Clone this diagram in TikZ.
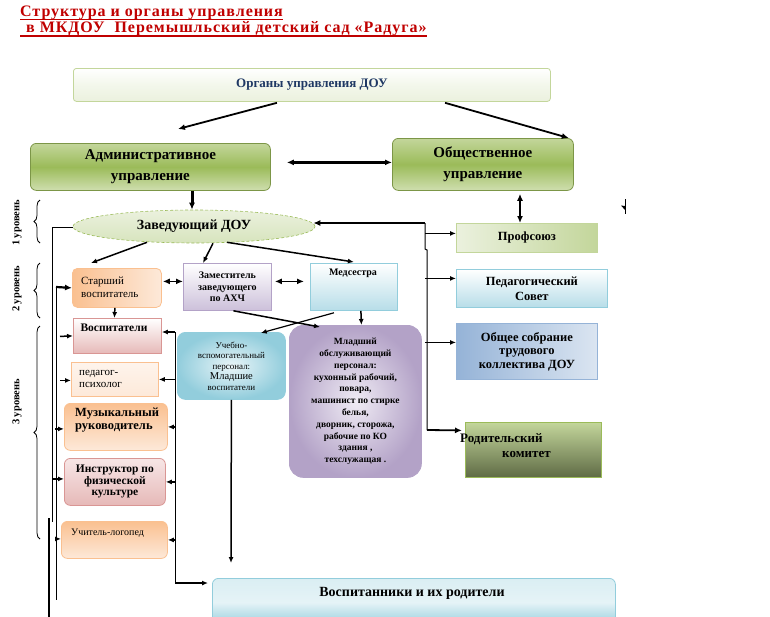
\documentclass[tikz,border=0pt]{standalone}
\usepackage{fontspec}
\setmainfont{Liberation Serif}
\usetikzlibrary{arrows.meta,shapes.geometric,calc,decorations.pathreplacing}
\definecolor{titlered}{HTML}{C00000}
\definecolor{navy}{HTML}{1F3864}
\definecolor{gA}{HTML}{9BBB59}
\definecolor{gB}{HTML}{C3D69B}
\definecolor{gC}{HTML}{EBF1DE}
\definecolor{gD}{HTML}{D7E4BD}
\definecolor{gE}{HTML}{5F6B45}
\definecolor{bA}{HTML}{92CDDC}
\definecolor{bB}{HTML}{B7DDE8}
\definecolor{bC}{HTML}{DAEEF3}
\definecolor{bD}{HTML}{95B3D7}
\definecolor{bE}{HTML}{DBE5F1}
\definecolor{oA}{HTML}{FAC090}
\definecolor{oB}{HTML}{FDE9D9}
\definecolor{pA}{HTML}{E6B9B8}
\definecolor{pB}{HTML}{D99694}
\definecolor{pC}{HTML}{F7E6E6}
\definecolor{vA}{HTML}{B3A2C7}
\definecolor{vB}{HTML}{CCC0DA}
\definecolor{vC}{HTML}{EFEBF4}
\begin{document}
\begin{tikzpicture}[x=1pt,y=-1pt,
  box/.style={inner sep=0pt, anchor=north west, line width=0.8pt, align=center},
  ttl/.style={inner sep=0pt, text=titlered, font=\fontsize{16}{18}\selectfont\bfseries\addfontfeatures{LetterSpace=6}},
  lbl/.style={inner sep=0pt, align=left},
  lvl/.style={inner sep=0pt, rotate=90, font=\fontsize{10.5}{12}\selectfont\bfseries},
  arr/.style={-{Latex[length=7pt,width=6pt]}, line width=1.8pt},
  sarr/.style={-{Latex[length=6pt,width=5pt]}, line width=1.5pt},
  darr/.style={{Latex[length=7pt,width=6pt]}-{Latex[length=7pt,width=6pt]}, line width=1.8pt},
  thinl/.style={line width=1pt},
  brc/.style={decorate, decoration={brace, amplitude=6pt}, line width=0.8pt}
]
\useasboundingbox (0,0) rectangle (770,616);

% title
\node[ttl, anchor=base west] (t1) at (20,16) {Структура и органы управления};
\node[ttl, anchor=base west] (t2) at (26,32) {в МКДОУ\ \ Перемышльский детский сад «Радуга»};
\draw[titlered, line width=1.3pt] ($(t1.base west)+(0,3.5)$) -- ($(t1.base east)+(0,3.5)$);
\draw[titlered, line width=1.3pt] ($(t2.base west)+(-6,4)$) -- ($(t2.base east)+(0,4)$);

% top level
\node[box, minimum width=477, minimum height=33, top color=white, bottom color=gC, middle color=gC!60!white, draw=gB, rounded corners=3pt,
      font=\fontsize{13}{15}\selectfont\bfseries, text=navy] (org) at (73,68) {Органы управления ДОУ};
\node[box, minimum width=240, minimum height=47, top color=gB, bottom color=gB!80!white, middle color=gA, draw=gA!80!black, rounded corners=6pt,
      font=\fontsize{15}{21}\selectfont\bfseries] (admin) at (30,143) {Административное\\управление};
\node[box, minimum width=181, minimum height=52, top color=gB, bottom color=gB!80!white, middle color=gA, draw=gA!80!black, rounded corners=6pt,
      font=\fontsize{15}{21}\selectfont\bfseries] (obsh) at (392,138) {Общественное\\управление};

\node[ellipse, inner sep=0pt, minimum width=242, minimum height=33, top color=gC, bottom color=gD, draw=gA, densely dashed, line width=0.6pt,
      font=\fontsize{14}{16}\selectfont\bfseries] (zav) at (194,226.5) {Заведующий ДОУ};

% right column
\node[box, minimum width=141, minimum height=29, left color=gC, right color=gB, draw=gB, font=\fontsize{12.5}{14}\selectfont\bfseries] (prof) at (456,223) {Профсоюз};
\node[box, minimum width=151, minimum height=38, top color=white, bottom color=bB, draw=bA, font=\fontsize{12.5}{15}\selectfont\bfseries] (ped) at (456,269) {Педагогический\\Совет};
\node[box, minimum width=141, minimum height=56, shading angle=135, left color=bD, right color=bE, draw=bD, font=\fontsize{12.5}{13.5}\selectfont\bfseries] (obsch) at (456,323) {Общее собрание\\трудового\\коллектива ДОУ};
\node[box, minimum width=136, minimum height=55, top color=gB, bottom color=gE, draw=gA] (rod) at (465,422) {};
\node[lbl, anchor=base west, font=\fontsize{13}{15}\selectfont\bfseries] at (460,442) {Родительский};
\node[lbl, anchor=base west, font=\fontsize{13}{15}\selectfont\bfseries] at (502,457) {комитет};

% level 2 middle
\node[box, minimum width=89, minimum height=39, left color=oA, right color=oB, draw=oA, rounded corners=5pt] (star) at (72,268) {};
\node[lbl, anchor=west, font=\fontsize{11}{13}\selectfont] at (81,287) {Старший\\воспитатель};
\node[box, minimum width=88, minimum height=47, top color=white, bottom color=vB, draw=vA, font=\fontsize{10}{11.8}\selectfont\bfseries] (zam) at (183,263) {Заместитель\\заведующего\\по АХЧ};
\node[box, minimum width=87, minimum height=47, top color=white, bottom color=bB, draw=bA] (med) at (310,263) {};
\node[lbl, anchor=center, font=\fontsize{10}{12}\selectfont\bfseries] at (353,273) {Медсестра};

% left column
\node[box, minimum width=88, minimum height=35, top color=white, bottom color=pA, draw=pB] (vosp) at (73,318) {};
\node[lbl, anchor=center, font=\fontsize{11.5}{13}\selectfont\bfseries] at (114,328) {Воспитатели};
\node[box, minimum width=87, minimum height=34, top color=oB!50!white, bottom color=oB, draw=oA] (psych) at (71,362) {};
\node[lbl, anchor=west, font=\fontsize{11}{11.5}\selectfont] at (79,379) {педагог-\\психолог};
\node[box, minimum width=103, minimum height=47, top color=oA, bottom color=oB, draw=oA, rounded corners=6pt] (muz) at (64,403) {};
\node[lbl, anchor=north west, font=\fontsize{12.5}{12.5}\selectfont\bfseries] at (75,408) {Музыкальный\\руководитель};
\node[box, minimum width=101, minimum height=47, top color=pC, bottom color=pA, draw=pB, rounded corners=6pt, font=\fontsize{11.5}{11.5}\selectfont\bfseries] (instr) at (64,458) {Инструктор по\\физической\\культуре};
\node[box, minimum width=106, minimum height=37, top color=oA, bottom color=oB, draw=oA, rounded corners=6pt] (logo) at (61,521) {};
\node[lbl, anchor=west, font=\fontsize{10}{12}\selectfont] at (71,533) {Учитель-логопед};

% service staff
\node[box, minimum width=108, minimum height=67, inner color=bC!60!white, outer color=bA, draw=bA, rounded corners=8pt, font=\fontsize{9}{10.5}\selectfont] (ucheb) at (177,332)
  {Учебно-\\вспомогательный\\персонал:\\{\fontsize{10.5}{11}\selectfont Младшие}\\воспитатели};
\node[box, minimum width=132, minimum height=152, inner color=vC, outer color=vA, draw=vA, rounded corners=14pt, font=\fontsize{9.5}{11.8}\selectfont\bfseries] (mlad) at (289,325)
  {Младший\\обслуживающий\\персонал:\\кухонный рабочий,\\повара,\\машинист по стирке\\белья,\\дворник, сторожа,\\рабочие по КО\\здания ,\\техслужащая .};

\node[box, minimum width=403, minimum height=48, top color=bC, bottom color=bA, middle color=bC!70!white, draw=bA, rounded corners=6pt] (vospit) at (212,578) {};
\node[lbl, anchor=center, font=\fontsize{14}{16}\selectfont\bfseries] at (412,593) {Воспитанники и их родители};

% level labels and braces
\node[lvl] (lv1) at (17,223) {1 уровень};
\node[lvl] (lv2) at (17,289) {2 уровень};
\node[lvl] (lv3) at (17,402) {3 уровень};
\draw[brc] (40,243) -- (40,200);
\draw[brc] (40,318) -- (40,263);
\draw[brc] (40,539) -- (40,326);

% connectors top
\draw[arr] ($(org.south west)+(204,1)$) -- ($(admin.north west)+(148,-14)$);
\draw[arr] ($(org.south west)+(372,1)$) -- ($(obsh.north east)+(-5,0)$);
\draw[darr, line width=2.6pt] ($(admin.east)+(16,-4.5)$) -- ($(obsh.west)+(0,-2)$);
\draw[arr, line width=3pt] ($(admin.south west)+(162,0)$) -- ($(zav.north)+(-2,0)$);
\draw[darr] ($(obsh.south west)+(128,3)$) -- ($(prof.north west)+(64,0)$);

% from director
\draw[sarr] ($(zav.south)+(-47,-1)$) -- ($(star.north west)+(19,-5)$);
\draw[sarr] ($(zav.south)+(19,0)$) -- ($(zam.north west)+(20,0)$);
\draw[sarr] ($(zav.south)+(33,-1)$) -- ($(med.north)+(0,-1)$);
\draw[darr, line width=1.5pt] ($(star.east)+(1,-6.5)$) -- ($(zam.west)+(0,-5.5)$);
\draw[darr, line width=1.5pt] ($(zam.east)+(3,-5.5)$) -- ($(med.west)+(-6,-5.5)$);
\draw[sarr] ($(star.south)+(-2,0)$) -- ($(vosp.north)+(-3,0)$);
\draw[sarr] ($(med.south)+(7,0)$) -- ($(mlad.north)+(6,0)$);
\draw[sarr] ($(zam.south)+(6,0)$) -- ($(mlad.north west)+(31,2)$);
\draw[sarr, line width=1.2pt] ($(med.south)+(-20,2)$) -- ($(ucheb.north east)+(-25,1)$);
\draw[sarr] (ucheb.south) -- ($(vospit.north west)+(19,-15)$);

% right trunk
\coordinate (rt) at (425,223);
\coordinate (rb) at (427,430);
\draw[arr] (rt) -- ($(zav.east)+(-2,-3.5)$);
\draw[thinl] (rt) -- (425,249) -- (427,250) -- (rb);
\draw[arr] (rb) -- ($(rod.west)+(-3,-19.5)$);
\coordinate (pw) at ($(prof.west)+(0,-4.5)$);
\coordinate (dw) at ($(ped.west)+(0,-10)$);
\coordinate (ow) at ($(obsch.west)+(0,-9)$);
\draw[sarr] (rt |- pw) -- (pw);
\draw[sarr] (rt |- dw) -- (dw);
\draw[sarr] (rt |- ow) -- (ow);

% stray tick
\coordinate (tk1) at (625,199);
\coordinate (tk2) at (625,214);
\draw[thinl] (tk1) -- (tk2);
\fill (625,206) -- (621,205.5) -- (625,210) -- cycle;

% left trunks
\coordinate (l1) at (52,227);
\coordinate (l1b) at (52,522);
\draw[thinl] ($(zav.west)+(0,0.5)$) -- (l1) -- (l1b);
\coordinate (l0a) at (49,518);
\coordinate (l0b) at (49,620);
\draw[line width=1.8pt] (l0a) -- (l0b);
\coordinate (l2t) at (56,287);
\coordinate (l2b) at (56,600);
\draw[thinl] (l2t) -- (l2b);
\draw[arr, line width=2.2pt] (l2t) -- (star.west);
\draw[sarr] ($(vosp.west)+(-13,0.5)$) -- (vosp.west);
\draw[sarr] ($(psych.west)+(-11,1)$) -- ($(psych.west)+(0,1)$);
\draw[sarr] ($(muz.west)+(-9,2)$) -- ($(muz.west)+(0,2)$);
\draw[sarr] ($(instr.west)+(-11,-3)$) -- ($(instr.west)+(0,-3)$);
\draw[sarr] ($(logo.west)+(-6,-1)$) -- ($(logo.west)+(0,-1)$);

% right-of-left-column trunk
\coordinate (r2t) at (175,332);
\coordinate (r2b) at (175,583);
\draw[thinl] (r2t) -- (r2b);
\draw[sarr] (r2t) -- (vosp.east |- r2t);
\draw[sarr] (r2t |- psych.east) -- (psych.east);
\draw[sarr] (r2t |- muz.east) -- (muz.east);
\draw[sarr] (r2t |- instr.east) -- (instr.east);
\draw[sarr] (r2t |- logo.east) -- (logo.east);
\draw[sarr] (r2b) -- ($(vospit.west |- r2b)+(-4,0)$);
\end{tikzpicture}
\end{document}
